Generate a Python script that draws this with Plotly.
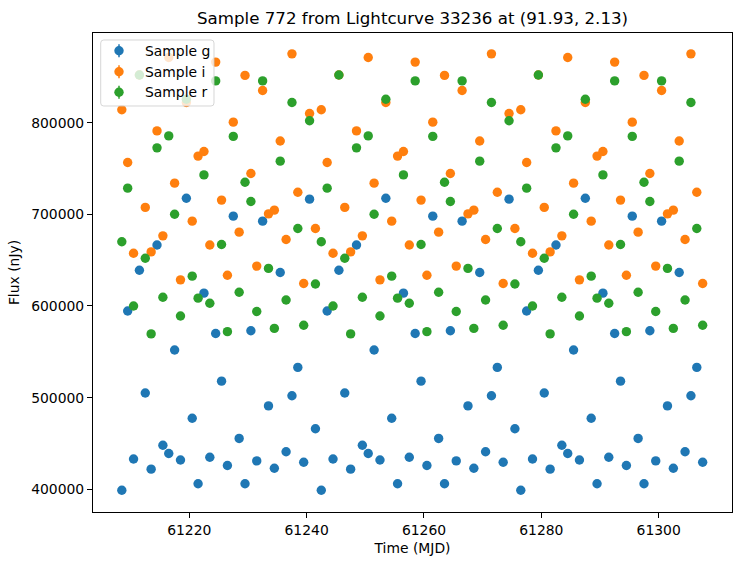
import plotly.graph_objects as go

# ---------------- data ----------------
time_mjd = [
    61208.5, 61209.5, 61210.5, 61211.5, 61212.5, 61213.5, 61214.5, 61215.5, 61216.5, 61217.5,
    61218.5, 61219.5, 61220.5, 61221.5, 61222.5, 61223.5, 61224.5, 61225.5, 61226.5, 61227.5,
    61228.5, 61229.5, 61230.5, 61231.5, 61232.5, 61233.5, 61234.5, 61235.5, 61236.5, 61237.5,
    61238.5, 61239.5, 61240.5, 61241.5, 61242.5, 61243.5, 61244.5, 61245.5, 61246.5, 61247.5,
    61248.5, 61249.5, 61250.5, 61251.5, 61252.5, 61253.5, 61254.5, 61255.5, 61256.5, 61257.5,
    61258.5, 61259.5, 61260.5, 61261.5, 61262.5, 61263.5, 61264.5, 61265.5, 61266.5, 61267.5,
    61268.5, 61269.5, 61270.5, 61271.5, 61272.5, 61273.5, 61274.5, 61275.5, 61276.5, 61277.5,
    61278.5, 61279.5, 61280.5, 61281.5, 61282.5, 61283.5, 61284.5, 61285.5, 61286.5, 61287.5,
    61288.5, 61289.5, 61290.5, 61291.5, 61292.5, 61293.5, 61294.5, 61295.5, 61296.5, 61297.5,
    61298.5, 61299.5, 61300.5, 61301.5, 61302.5, 61303.5, 61304.5, 61305.5, 61306.5, 61307.5,
]

flux_g = [
    399000, 594500, 433000, 639000, 505000, 422000, 666500, 448000, 439000, 552000,
    432000, 717500, 477500, 406000, 614000, 435000, 570000, 518000, 426000, 698000,
    455500, 406000, 573000, 431000, 692500, 491000, 423000, 636500, 441000, 502000,
    533000, 429500, 716500, 466000,
    399000, 594500, 433000, 639000, 505000, 422000, 666500, 448000, 439000, 552000,
    432000, 717500, 477500, 406000, 614000, 435000, 570000, 518000, 426000, 698000,
    455500, 406000, 573000, 431000, 692500, 491000, 423000, 636500, 441000, 502000,
    533000, 429500, 716500, 466000,
    399000, 594500, 433000, 639000, 505000, 422000, 666500, 448000, 439000, 552000,
    432000, 717500, 477500, 406000, 614000, 435000, 570000, 518000, 426000, 698000,
    455500, 406000, 573000, 431000, 692500, 491000, 423000, 636500, 441000, 502000,
    533000, 429500,
]

flux_i = [
    814000, 756500, 657500, 852000, 707500, 659000, 791000, 676500, 871000, 734000,
    628500, 822000, 692500, 763500, 768500, 666500, 866000, 715500, 633500, 800500,
    680500, 851500, 744500, 643500, 835000, 700500, 704500, 780000, 672500, 875000,
    724000, 624500, 810000, 684500,
    814000, 756500, 657500, 852000, 707500, 659000, 791000, 676500, 871000, 734000,
    628500, 822000, 692500, 763500, 768500, 666500, 866000, 715500, 633500, 800500,
    680500, 851500, 744500, 643500, 835000, 700500, 704500, 780000, 672500, 875000,
    724000, 624500, 810000, 684500,
    814000, 756500, 657500, 852000, 707500, 659000, 791000, 676500, 871000, 734000,
    628500, 822000, 692500, 763500, 768500, 666500, 866000, 715500, 633500, 800500,
    680500, 851500, 744500, 643500, 835000, 700500, 704500, 780000, 672500, 875000,
    724000, 624500,
]

flux_r = [
    670000, 728500, 600000, 852000, 652000, 569500, 772500, 609500, 785500, 700000,
    589000, 825500, 632500, 608500, 743000, 603000, 845500, 667000, 572000, 785000,
    615000, 735000, 714000, 594000, 845500, 641000, 575500, 758000, 606500, 822000,
    684500, 579000, 802000, 624000,
    670000, 728500, 600000, 852000, 652000, 569500, 772500, 609500, 785500, 700000,
    589000, 825500, 632500, 608500, 743000, 603000, 845500, 667000, 572000, 785000,
    615000, 735000, 714000, 594000, 845500, 641000, 575500, 758000, 606500, 822000,
    684500, 579000, 802000, 624000,
    670000, 728500, 600000, 852000, 652000, 569500, 772500, 609500, 785500, 700000,
    589000, 825500, 632500, 608500, 743000, 603000, 845500, 667000, 572000, 785000,
    615000, 735000, 714000, 594000, 845500, 641000, 575500, 758000, 606500, 822000,
    684500, 579000,
]

series_names = ["Sample g", "Sample i", "Sample r"]
series_colors = ["#1f77b4", "#ff7f0e", "#2ca02c"]
x_ticks = [61220, 61240, 61260, 61280, 61300]
y_ticks = [400000, 500000, 600000, 700000, 800000]

# ---------------- figure ----------------
W, H = 741, 565
ML, MR, MT, MB = 93, 9, 33, 53
PW, PH = W - ML - MR, H - MT - MB
FONT = "DejaVu Sans"


def px_x(x):
    return (x - ML) / PW


def px_y(y):
    return (H - MB - y) / PH


fig = go.Figure()
for name, ys, col in zip(series_names, [flux_g, flux_i, flux_r], series_colors):
    fig.add_trace(go.Scatter(
        x=time_mjd, y=ys, mode="markers", name=name,
        marker=dict(color=col, size=9.4, line=dict(width=0)),
        showlegend=False,
    ))

axis_common = dict(
    showgrid=False, zeroline=False, showline=True, mirror=True,
    linecolor="black", linewidth=1.1, ticks="outside", ticklen=5,
    tickwidth=1.1, tickcolor="black",
    tickfont=dict(family=FONT, size=13.9, color="black"),
)
fig.update_xaxes(
    range=[61203.59, 61312.50], tickvals=x_ticks,
    ticktext=[str(v) for v in x_ticks],
    title=dict(text="Time (MJD)", font=dict(family=FONT, size=13.9, color="black"), standoff=6),
    **axis_common,
)
fig.update_yaxes(
    range=[375240, 897770], tickvals=y_ticks,
    ticktext=[str(v) for v in y_ticks],
    title=dict(text="Flux (nJy)", font=dict(family=FONT, size=13.9, color="black"), standoff=8),
    **axis_common,
)

# ---------------- legend (matplotlib style) ----------------
lx0, lx1, ly0, ly1 = 100.7, 214.0, 40.0, 106.0
r = 3.0


def rounded_rect(x0, y0, x1, y1, r):
    # pixel coords -> paper path
    X = lambda v: px_x(v)
    Y = lambda v: px_y(v)
    return (
        f"M {X(x0 + r)} {Y(y0)} L {X(x1 - r)} {Y(y0)} Q {X(x1)} {Y(y0)} {X(x1)} {Y(y0 + r)} "
        f"L {X(x1)} {Y(y1 - r)} Q {X(x1)} {Y(y1)} {X(x1 - r)} {Y(y1)} "
        f"L {X(x0 + r)} {Y(y1)} Q {X(x0)} {Y(y1)} {X(x0)} {Y(y1 - r)} "
        f"L {X(x0)} {Y(y0 + r)} Q {X(x0)} {Y(y0)} {X(x0 + r)} {Y(y0)} Z"
    )


shapes = [dict(
    type="path", xref="paper", yref="paper", path=rounded_rect(lx0, ly0, lx1, ly1, r),
    fillcolor="rgba(255,255,255,0.8)", line=dict(color="rgba(204,204,204,0.8)", width=1),
    layer="above",
)]
annotations = []
row_y = [50.7, 71.7, 92.3]
for name, col, yy in zip(series_names, series_colors, row_y):
    shapes.append(dict(
        type="line", xref="paper", yref="paper", layer="above",
        xsizemode="pixel", ysizemode="pixel", xanchor=px_x(119.0), yanchor=px_y(yy),
        x0=0, x1=0, y0=-6.5, y1=6.5, line=dict(color=col, width=1.5),
    ))
    shapes.append(dict(
        type="circle", xref="paper", yref="paper", layer="above",
        xsizemode="pixel", ysizemode="pixel", xanchor=px_x(119.0), yanchor=px_y(yy),
        x0=-4.7, x1=4.7, y0=-4.7, y1=4.7, fillcolor=col, line=dict(width=0),
    ))
    annotations.append(dict(
        text=name, xref="paper", yref="paper", x=px_x(143.0), y=px_y(yy),
        xanchor="left", yanchor="middle", showarrow=False,
        font=dict(family=FONT, size=13.9, color="black"),
    ))

annotations.append(dict(
    text="Sample 772 from Lightcurve 33236 at (91.93, 2.13)",
    xref="paper", yref="paper", x=0.5, y=px_y(18.5), xanchor="center", yanchor="middle",
    showarrow=False, font=dict(family=FONT, size=16.67, color="black"),
))

fig.update_layout(
    width=W, height=H, margin=dict(l=ML, r=MR, t=MT, b=MB, autoexpand=False),
    paper_bgcolor="white", plot_bgcolor="white",
    font=dict(family=FONT, color="black"),
    shapes=shapes, annotations=annotations, showlegend=False,
)

fig.write_html("out.html")
